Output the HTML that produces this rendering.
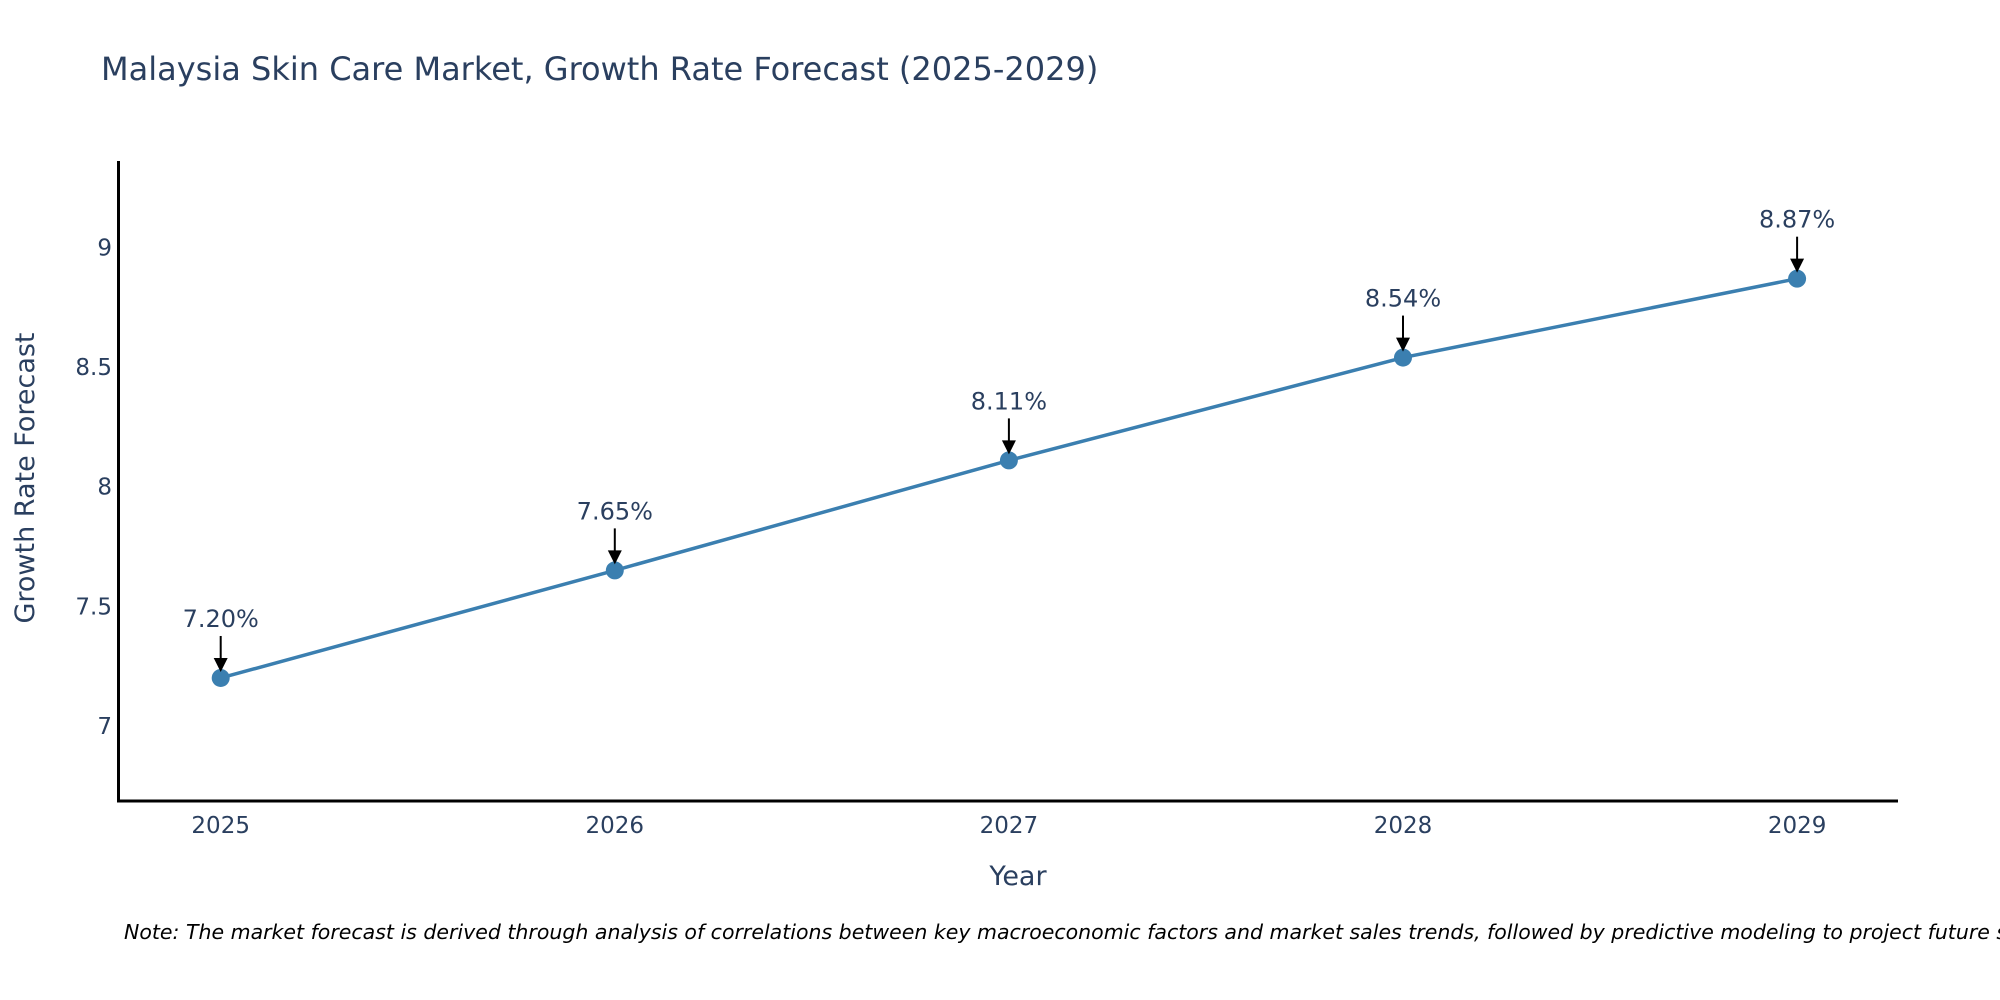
<!DOCTYPE html>
<html><head><meta charset="utf-8"><style>
body{margin:0;background:#fff;}
svg{display:block;font-family:"DejaVu Sans","Liberation Sans",sans-serif;}
</style></head><body>
<svg id="chart" width="2000" height="1000" viewBox="0 0 2000 1000">
<text x="101" y="80" font-size="32" fill="#2a3f5f">Malaysia Skin Care Market, Growth Rate Forecast (2025-2029)</text>
<g id="yticks"></g>
<g id="xticks"></g>
<line x1="118.5" y1="161" x2="118.5" y2="802" stroke="#000" stroke-width="3"/>
<line x1="117" y1="801" x2="1898" y2="801" stroke="#000" stroke-width="3"/>
<g id="series"></g>
<g id="annots"></g>
<text x="1018" y="885" font-size="27" fill="#2a3f5f" text-anchor="middle">Year</text>
<text transform="translate(34,478) rotate(-90)" font-size="27" fill="#2a3f5f" text-anchor="middle">Growth Rate Forecast</text>
<text x="124" y="939" font-size="20.5" font-style="italic" fill="#000">Note: The market forecast is derived through analysis of correlations between key macroeconomic factors and market sales trends, followed by predictive modeling to project future sales.</text>
</svg>
<script>
const years = [2025, 2026, 2027, 2028, 2029];
const values = [7.20, 7.65, 8.11, 8.54, 8.87];
const labels = ["7.20%", "7.65%", "8.11%", "8.54%", "8.87%"];
const yTicks = [7, 7.5, 8, 8.5, 9];
const yTickLabels = ["7", "7.5", "8", "8.5", "9"];
const NS = "http://www.w3.org/2000/svg";
function xs(v){ return 220.7 + (v - 2025) * 394.1; }
function ys(v){ return 725.8 - (v - 7) * 239.1; }
function mk(tag, attrs, parent){ const e=document.createElementNS(NS,tag); for(const k in attrs) e.setAttribute(k,attrs[k]); parent.appendChild(e); return e; }
const yg=document.getElementById('yticks'), xg=document.getElementById('xticks'), sg=document.getElementById('series'), ag=document.getElementById('annots');
yTicks.forEach((t,i)=>{
  const e=mk('text',{x:112,y:ys(t)+8,'font-size':23,fill:'#2a3f5f','text-anchor':'end'},yg);
  e.textContent=yTickLabels[i];
  
  
});
years.forEach(y=>{
  const e=mk('text',{x:xs(y),y:833,'font-size':23,fill:'#2a3f5f','text-anchor':'middle'},xg);
  e.textContent=String(y);
  
  
});
const pts=years.map((y,i)=>xs(y)+','+ys(values[i])).join(' ');
const line=mk('polyline',{points:pts,fill:'none',stroke:'#3b7fb0','stroke-width':3.5},sg);


years.forEach((y,i)=>{
  const c=mk('circle',{cx:xs(y),cy:ys(values[i]),r:9,fill:'#3b7fb0'},sg);
  
  
  const px=xs(y), py=ys(values[i]);
  const l=mk('line',{x1:px,y1:py-42,x2:px,y2:py-18,stroke:'#000','stroke-width':2},ag);
  
  
  const h=mk('polygon',{points:(px-7)+','+(py-20)+' '+(px+7)+','+(py-20)+' '+px+','+(py-6),fill:'#000'},ag);
  
  
  const t=mk('text',{x:px,y:py-51,'font-size':24,fill:'#2a3f5f','text-anchor':'middle'},ag);
  t.textContent=labels[i];
  
  
});
</script>
</body></html>
